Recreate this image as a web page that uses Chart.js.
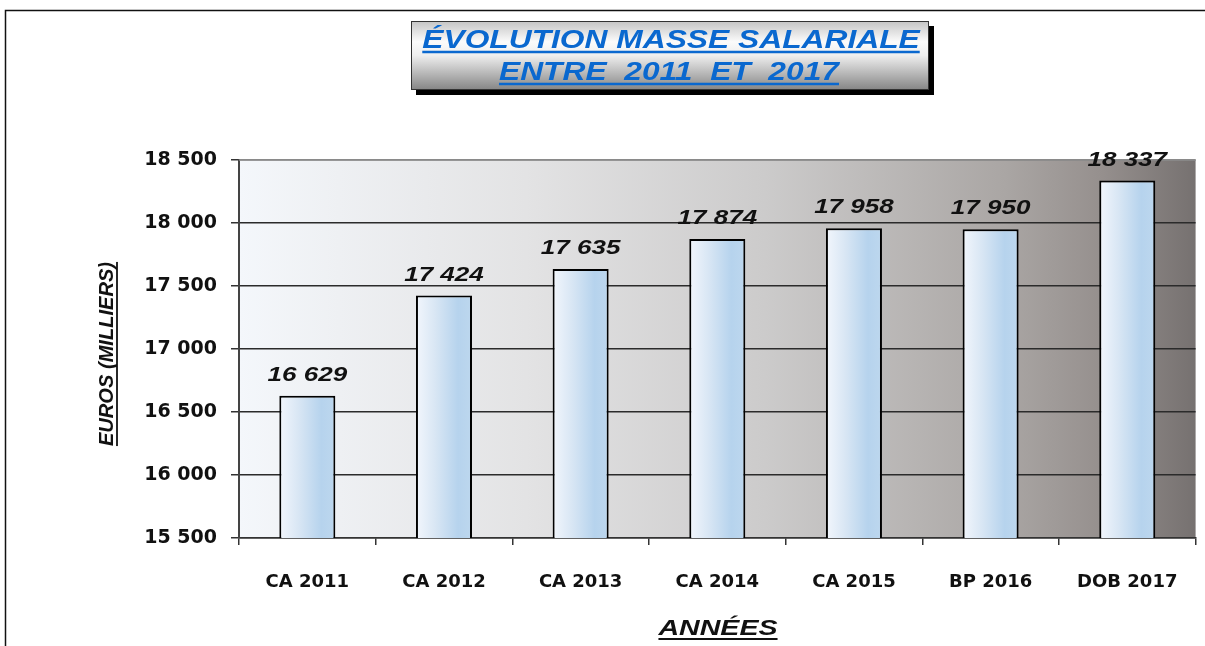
<!DOCTYPE html>
<html>
<head>
<meta charset="utf-8">
<script src="https://cdn.jsdelivr.net/npm/chart.js@4.4.1/dist/chart.umd.min.js"></script>
<style>
  html, body { margin: 0; padding: 0; background: #fff; }
  #wrap { width: 1205px; height: 646px; position: relative; }
</style>
</head>
<body>
<div id="wrap"><canvas id="myChart" width="1205" height="646"></canvas></div>
<script>
// data
const categories = ['CA 2011', 'CA 2012', 'CA 2013', 'CA 2014', 'CA 2015', 'BP 2016', 'DOB 2017'];
const masseSalariale = [16629, 17424, 17635, 17874, 17958, 17950, 18337];
const yTicks = [15500, 16000, 16500, 17000, 17500, 18000, 18500];
const titleLines = ['ÉVOLUTION MASSE SALARIALE', 'ENTRE  2011  ET  2017'];
const yTitle = 'EUROS (MILLIERS)';
const xTitle = 'ANNÉES';

const barPct = 0.41;
const stretch = 1.27; // the original text looks stretched sideways

// french style thousands: "16 629"
function fmt(v) {
    return String(v).replace(/\B(?=(\d{3})+(?!\d))/g, ' ');
}

// text centred on x, sitting on baseline y, optionally underlined
function wideText(ctx, txt, x, y, font, color, sx, ulOffset, lw) {
    ctx.save();
    ctx.translate(x, y);
    ctx.scale(sx, 1);
    ctx.font = font;
    ctx.fillStyle = color;
    ctx.textAlign = 'center';
    ctx.textBaseline = 'alphabetic';
    ctx.fillText(txt, 0, 0);
    if (ulOffset) {
        let w = ctx.measureText(txt).width;
        ctx.fillRect(-w / 2, ulOffset - lw / 2, w, lw);
    }
    ctx.restore();
}

const decorPlugin = {
    id: 'decor',
    beforeDraw(chart) {
        const ctx = chart.ctx;
        const a = chart.chartArea;
        ctx.save();
        // outer frame
        ctx.strokeStyle = '#111';
        ctx.lineWidth = 1.5;
        ctx.beginPath();
        ctx.moveTo(5.5, 646);
        ctx.lineTo(5.5, 10.5);
        ctx.lineTo(1205, 10.5);
        ctx.stroke();
        // plot background
        let g = ctx.createLinearGradient(a.left, 0, a.right, 0);
        g.addColorStop(0, '#f4f7fb');
        g.addColorStop(0.3, '#e3e3e4');
        g.addColorStop(0.55, '#cccbcb');
        g.addColorStop(0.8, '#aaa6a4');
        g.addColorStop(0.9, '#96908e');
        g.addColorStop(1, '#767170');
        ctx.fillStyle = g;
        ctx.fillRect(a.left, a.top, a.right - a.left, a.bottom - a.top);
        // title box
        ctx.fillStyle = '#000';
        ctx.fillRect(416, 26, 518, 69);
        let tg = ctx.createLinearGradient(0, 21, 0, 90);
        tg.addColorStop(0, '#c4c4c4');
        tg.addColorStop(0.3, '#fbfbfb');
        tg.addColorStop(0.5, '#eeeeee');
        tg.addColorStop(1, '#858585');
        ctx.fillStyle = tg;
        ctx.fillRect(411, 21, 518, 69);
        ctx.strokeStyle = '#333';
        ctx.lineWidth = 1;
        ctx.strokeRect(411.5, 21.5, 517, 68);
        wideText(ctx, titleLines[0], 671, 48, 'italic bold 25px Arial', '#0a68cf', stretch, 4, 2.5);
        wideText(ctx, titleLines[1], 669, 80, 'italic bold 25px Arial', '#0a68cf', stretch, 4, 2.5);
        ctx.restore();
    },
    afterDraw(chart) {
        const ctx = chart.ctx;
        const a = chart.chartArea;
        const x = chart.scales.x, y = chart.scales.y;
        ctx.save();
        // top border of plot
        ctx.strokeStyle = '#8a8a8a';
        ctx.lineWidth = 1.5;
        ctx.beginPath();
        ctx.moveTo(a.left, a.top);
        ctx.lineTo(a.right, a.top);
        ctx.stroke();
        // value labels
        masseSalariale.forEach((v, i) => {
            wideText(ctx, fmt(v), x.getPixelForValue(i), y.getPixelForValue(v) - 15,
                'italic bold 20.5px Arial', '#111', stretch, 0, 0);
        });
        // axis titles
        wideText(ctx, xTitle, 718, 635, 'italic bold 22.5px Arial', '#111', stretch, 4, 2);
        ctx.translate(113, 354);
        ctx.rotate(-Math.PI / 2);
        wideText(ctx, yTitle, 0, 0, 'italic bold 19.5px Arial', '#111', 1.03, 4, 1.8);
        ctx.restore();
    }
};

function barFill(context) {
    const chart = context.chart;
    if (!chart.chartArea || !chart.scales.x) return '#cfe0f1';
    const xs = chart.scales.x;
    const cx = xs.getPixelForValue(context.dataIndex);
    const half = (xs.width / categories.length) * barPct / 2;
    const g = chart.ctx.createLinearGradient(cx - half, 0, cx + half, 0);
    g.addColorStop(0, '#f2f6fc');
    g.addColorStop(0.35, '#d8e6f4');
    g.addColorStop(0.75, '#b6d3ed');
    g.addColorStop(1, '#bdd7ee');
    return g;
}

let canvasChart = document.getElementById('myChart').getContext('2d');
let myChart = new Chart(canvasChart, {
    type: 'bar',
    data: {
        labels: categories,
        datasets: [{
            data: masseSalariale,
            backgroundColor: barFill,
            borderColor: '#000',
            borderWidth: 2,
            borderSkipped: false,
            categoryPercentage: 1,
            barPercentage: barPct
        }]
    },
    options: {
        responsive: false,
        animation: false,
        events: [],
        layout: { padding: { top: 160, left: 0, right: 8, bottom: 0 } },
        plugins: {
            legend: { display: false },
            tooltip: { enabled: false }
        },
        scales: {
            x: {
                grid: {
                    offset: true,
                    drawOnChartArea: false,
                    color: '#333',
                    tickLength: 7,
                    lineWidth: 1.5
                },
                border: { color: '#333', width: 1.5 },
                ticks: {
                    color: '#111',
                    font: { family: 'DejaVu Sans', size: 18, weight: 'bold' },
                    padding: 27,
                    maxRotation: 0
                },
                afterFit(scale) { scale.height = 108; }
            },
            y: {
                min: yTicks[0],
                max: yTicks[yTicks.length - 1],
                afterBuildTicks(scale) {
                    scale.ticks = yTicks.map(v => ({ value: v }));
                },
                grid: {
                    color: (c) => c.tick && c.tick.value === yTicks[yTicks.length - 1] ? '#8a8a8a' : '#2b2b2b',
                    lineWidth: 1.5,
                    tickLength: 8,
                    tickColor: '#333'
                },
                border: { color: '#444', width: 2 },
                ticks: {
                    color: '#111',
                    font: { family: 'DejaVu Sans', size: 19, weight: 'bold' },
                    padding: 14,
                    callback: (v) => fmt(v)
                },
                afterFit(scale) { scale.width = 239; }
            }
        }
    },
    plugins: [decorPlugin]
});
</script>
</body>
</html>
